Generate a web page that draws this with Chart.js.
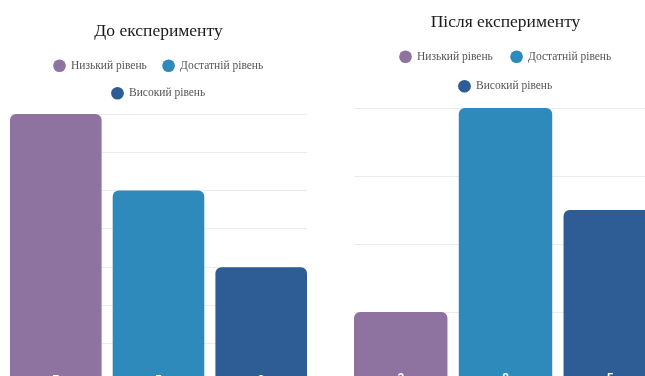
<!DOCTYPE html>
<html lang="uk">
<head>
<meta charset="utf-8">
<title>Рівні до та після експерименту</title>
<script src="https://cdn.jsdelivr.net/npm/chart.js@4.4.1/dist/chart.umd.min.js"></script>
<style>
    html, body { margin: 0; padding: 0; background: #fff; }
    body { width: 645px; height: 376px; overflow: hidden; position: relative; }
    .box { position: absolute; }
    #boxBefore { left: 0; top: 0; width: 317px; height: 382px; }
    #boxAfter { left: 344px; top: -9px; width: 323px; height: 389px; }
</style>
</head>
<body>
<div class="box" id="boxBefore"><canvas id="chartBefore"></canvas></div>
<div class="box" id="boxAfter"><canvas id="chartAfter"></canvas></div>

<script>
    "use strict";

    // --- data ---
    const levels = ["Низький рівень", "Достатній рівень", "Високий рівень"];
    const levelColors = ["#8e72a0", "#2d8aba", "#2e5d96"];
    const beforeValues = [7, 5, 3];
    const afterValues = [2, 8, 5];
    const titleBefore = "До експерименту";
    const titleAfter = "Після експерименту";

    const SERIF = "'Liberation Serif', 'Times New Roman', serif";

    /* white value labels sitting at the base of each bar */
    const baseLabels = {
        id: "baseLabels",
        afterDatasetsDraw(chart) {
            const ctx = chart.ctx;
            chart.data.datasets.forEach((ds, i) => {
                chart.getDatasetMeta(i).data.forEach((bar, j) => {
                    ctx.save();
                    ctx.fillStyle = "#fff";
                    ctx.font = "bold 12px 'Liberation Sans', Arial, sans-serif";
                    ctx.textAlign = "center";
                    ctx.textBaseline = "middle";
                    ctx.fillText(String(ds.data[j].y), bar.x, bar.base - 1);
                    ctx.restore();
                });
            });
        }
    };

    /* a bit of extra room under the legend */
    const legendGap = {
        id: "legendGap",
        beforeUpdate(chart, args, opts) {
            const lg = chart.legend;
            if (!lg || lg._gapPatched) return;
            const fit = lg.fit;
            lg.fit = function () {
                fit.call(this);
                this.height += opts.extra || 0;
            };
            lg._gapPatched = true;
        }
    };

    function makeChart(canvasId, title, values, yMax, yStep, layoutOpts) {
        const datasets = levels.map((name, i) => ({
            label: name,
            data: [{ x: i, y: values[i] }],
            backgroundColor: levelColors[i],
            borderRadius: { topLeft: 6, topRight: 6 },
            borderSkipped: "start",
            grouped: false
        }));

        return new Chart(document.getElementById(canvasId), {
            type: "bar",
            data: { datasets },
            options: {
                responsive: true,
                maintainAspectRatio: false,
                animation: false,
                categoryPercentage: 1,
                barPercentage: 0.892,
                layout: { padding: { left: 10, right: 10, top: 10, bottom: 0 } },
                scales: {
                    x: {
                        type: "linear",
                        offset: false,
                        min: -0.446,
                        max: 2.446,
                        display: false,
                        grid: { offset: false },
                        ticks: { stepSize: 1, includeBounds: false }
                    },
                    y: {
                        min: 0,
                        max: yMax,
                        ticks: { display: false, stepSize: yStep },
                        border: { display: false },
                        grid: { color: "#ececec", drawTicks: false }
                    }
                },
                plugins: {
                    title: {
                        display: true,
                        text: title,
                        color: "#1a1a1a",
                        font: { family: SERIF, size: 17.5, weight: "normal" },
                        padding: { top: 11, bottom: layoutOpts.titleBottom }
                    },
                    legend: {
                        position: "top",
                        labels: {
                            usePointStyle: true,
                            pointStyle: "circle",
                            boxHeight: 9,
                            color: "#555",
                            padding: layoutOpts.legendPad,
                            font: { family: SERIF, size: 11.5 }
                        }
                    },
                    legendGap: { extra: layoutOpts.extra },
                    tooltip: { enabled: false }
                }
            },
            plugins: [baseLabels, legendGap]
        });
    }

    makeChart("chartBefore", titleBefore, beforeValues, 7, 1, { legendPad: 16, titleBottom: 2, extra: 5 });
    makeChart("chartAfter", titleAfter, afterValues, 8, 2, { legendPad: 18, titleBottom: 0, extra: 6 });
</script>
</body>
</html>
